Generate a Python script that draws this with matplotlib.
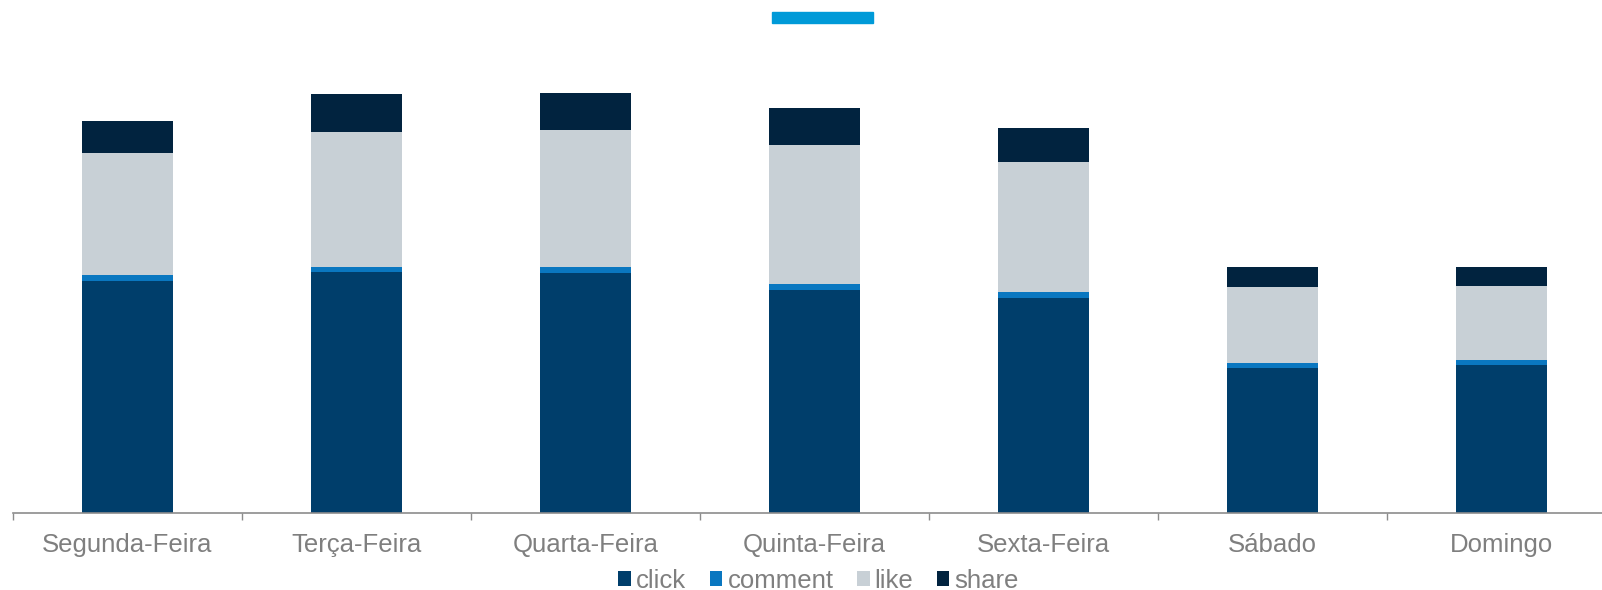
import matplotlib
matplotlib.use("Agg")
import matplotlib.pyplot as plt
import numpy as np
from matplotlib.patches import Rectangle

plt.rcParams['font.family'] = ['Liberation Sans', 'DejaVu Sans']

dias = ['Segunda-Feira', 'Terça-Feira', 'Quarta-Feira', 'Quinta-Feira',
        'Sexta-Feira', 'Sábado', 'Domingo']
click = [232, 241, 240, 223, 215, 145, 148]
comment = [6, 5, 6, 6, 6, 5, 5]
like = [122, 135, 137, 139, 130, 76, 74]
share = [32, 38, 37, 37, 34, 20, 19]

series = [('click', click, '#003e6b'),
          ('comment', comment, '#0a77c0'),
          ('like', like, '#c8d0d6'),
          ('share', share, '#01233f')]

fig = plt.figure(figsize=(16.02, 5.90), dpi=100)
ax = fig.add_axes([13/1602, 77/590, 1603/1602, 450/590])

x = np.arange(len(dias))
bottom = np.zeros(len(dias))
for nome, vals, cor in series:
    vals = np.array(vals, dtype=float)
    ax.bar(x, vals, 0.40, bottom=bottom, color=cor, label=nome, linewidth=0)
    bottom += vals

ax.set_xlim(-0.5, 6.5)
ax.set_ylim(0, 450)
for s in ['left', 'right', 'top']:
    ax.spines[s].set_visible(False)
ax.spines['bottom'].set_color('#8c8c8c')
ax.spines['bottom'].set_linewidth(1.2)
ax.set_yticks([])

# ticks between the categories, labels at the centres
ax.set_xticks(np.arange(-0.5, 7, 1))
ax.set_xticklabels([])
ax.tick_params(axis='x', which='major', length=5, color='#8c8c8c', width=1)
ax.set_xticks(x, minor=True)
ax.set_xticklabels(dias, minor=True)
ax.tick_params(axis='x', which='minor', length=0, pad=14.5, labelsize=18.5,
               labelcolor='#7f7f7f')

fig.legend(loc='center', bbox_to_anchor=(0.511, 0.016), ncol=4, frameon=False,
           fontsize=18.5, handlelength=0.5, handleheight=0.5,
           handletextpad=0.2, columnspacing=0.9, labelcolor='#7f7f7f',
           borderpad=0)

# blue stripe at the top
fig.patches.append(Rectangle((772/1602, 1 - 23/590), 101/1602, 11/590,
                             transform=fig.transFigure, color='#009ad8'))

fig.savefig('out.png', dpi=100)
